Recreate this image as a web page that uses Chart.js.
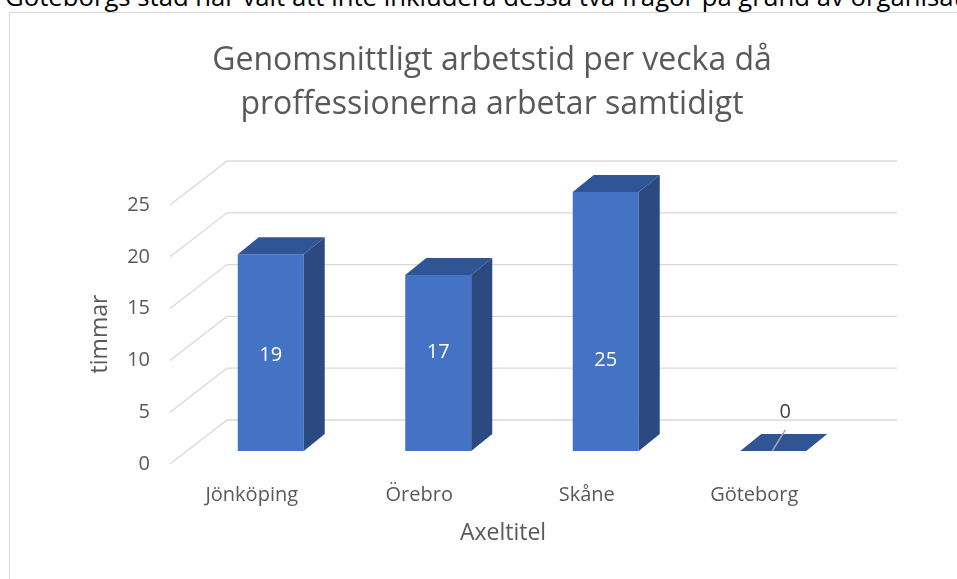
<!DOCTYPE html>
<html lang="sv">
<head>
<meta charset="utf-8">
<title>Genomsnittligt arbetstid per vecka</title>
<script src="https://cdn.jsdelivr.net/npm/chart.js@4.4.1/dist/chart.umd.min.js"></script>
<style>
    html, body { margin: 0; padding: 0; background: #fff; width: 957px; height: 579px; overflow: hidden; }
    #note {
        position: absolute; left: 5px; top: -18px; white-space: nowrap;
        font-family: "Open Sans", sans-serif; font-size: 25.7px; line-height: 30px; color: #000;
    }
    #frame { position: absolute; left: 9px; top: 12px; width: 960px; height: 580px; border: 1px solid #d9d9d9; }
    canvas { display: block; }
</style>
</head>
<body>
<div id="note">Göteborgs stad har valt att inte inkludera dessa två frågor på grund av organisationen</div>
<div id="frame"><canvas id="chart" width="960" height="580"></canvas></div>
<script>
// Data
const categories = ['Jönköping', 'Örebro', 'Skåne', 'Göteborg'];
const hours = [19, 17, 25, 0];
const yTicks = [0, 5, 10, 15, 20, 25];
const chartTitle = ['Genomsnittligt arbetstid per vecka då', 'proffessionerna arbetar samtidigt'];
const yTitle = 'timmar';
const xTitle = 'Axeltitel';

// 3D look (offsets from the bar plane)
const depth = { dx: 21, dy: -17 };   // bar depth
const wall = { dx: 40, dy: -31 };    // back wall
const front = { dx: -17, dy: 13 };   // front edge of the floor
const labelShift = [3, -11, 39];      // Excel put the value labels a bit off-centre

const textGray = '#595959';
const font = 'Open Sans';

const box3d = {
    id: 'box3d',
    beforeDraw(chart) {
        const { ctx, chartArea: a, scales: { y } } = chart;
        ctx.save();

        // title
        ctx.fillStyle = textGray;
        ctx.textAlign = 'center';
        ctx.textBaseline = 'alphabetic';
        ctx.font = `32px "${font}"`;
        ctx.fillText(chartTitle[0], 482, 57);
        ctx.fillText(chartTitle[1], 482, 101);

        // gridlines: front edge -> back wall -> across
        ctx.strokeStyle = '#d9d9d9';
        ctx.lineWidth = 1.3;
        yTicks.forEach(v => {
            const py = y.getPixelForValue(v);
            ctx.beginPath();
            ctx.moveTo(a.left + front.dx, py + front.dy);
            ctx.lineTo(a.left + wall.dx, py + wall.dy);
            ctx.lineTo(a.right + wall.dx, py + wall.dy);
            ctx.stroke();
        });

        // axis titles
        ctx.font = `23px "${font}"`;
        ctx.textBaseline = 'middle';
        ctx.fillText(xTitle, 493, 520);
        ctx.translate(90, 321);
        ctx.rotate(-Math.PI / 2);
        ctx.fillText(yTitle, 0, 0);
        ctx.restore();
    },
    afterDatasetsDraw(chart) {
        const { ctx } = chart;
        const meta = chart.getDatasetMeta(0);
        ctx.save();
        meta.data.forEach((bar, i) => {
            const { x, y, base, width } = bar.getProps(['x', 'y', 'base', 'width'], true);
            const l = x - width / 2, r = x + width / 2;

            // top face
            ctx.fillStyle = '#2f5597';
            ctx.beginPath();
            ctx.moveTo(l, y);
            ctx.lineTo(l + depth.dx, y + depth.dy);
            ctx.lineTo(r + depth.dx, y + depth.dy);
            ctx.lineTo(r, y);
            ctx.closePath();
            ctx.fill();

            // side face
            if (base - y > 0.5) {
                ctx.fillStyle = '#2a4a80';
                ctx.beginPath();
                ctx.moveTo(r, y);
                ctx.lineTo(r + depth.dx, y + depth.dy);
                ctx.lineTo(r + depth.dx, base + depth.dy);
                ctx.lineTo(r, base);
                ctx.closePath();
                ctx.fill();
            }

            // value label
            ctx.font = `20px "${font}"`;
            ctx.textAlign = 'center';
            ctx.textBaseline = 'middle';
            if (hours[i] > 0) {
                ctx.fillStyle = '#ffffff';
                ctx.fillText(String(hours[i]), x, (y + base) / 2 + (labelShift[i] || 0));
            } else {
                ctx.strokeStyle = '#a6a6a6';
                ctx.lineWidth = 1.5;
                ctx.beginPath();
                ctx.moveTo(x - 1, base);
                ctx.lineTo(x + 12, base - 21);
                ctx.stroke();
                ctx.fillStyle = '#404040';
                ctx.fillText(String(hours[i]), x + 12, base - 39);
            }
        });
        ctx.restore();
    }
};

new Chart(document.getElementById('chart'), {
    type: 'bar',
    data: {
        labels: categories,
        datasets: [{
            data: hours,
            backgroundColor: '#4472c4',
            borderWidth: 0,
            categoryPercentage: 1,
            barPercentage: 0.394
        }]
    },
    options: {
        responsive: false,
        animation: false,
        layout: { padding: { top: 179, right: 113, left: 0, bottom: 0 } },
        plugins: { legend: { display: false }, tooltip: { enabled: false } },
        scales: {
            x: {
                grid: { display: false, drawTicks: false },
                border: { display: false },
                ticks: { color: textGray, font: { family: font, size: 20 }, labelOffset: -19, padding: 32 },
                afterFit(s) { s.height = 142; }
            },
            y: {
                min: 0,
                max: 25,
                grid: { display: false, drawTicks: false },
                border: { display: false },
                afterBuildTicks(s) { s.ticks = yTicks.map(v => ({ value: v })); },
                ticks: { color: textGray, font: { family: font, size: 20 }, labelOffset: 13, padding: 37 },
                afterFit(s) { s.width = 177; }
            }
        }
    },
    plugins: [box3d]
});
</script>
</body>
</html>
